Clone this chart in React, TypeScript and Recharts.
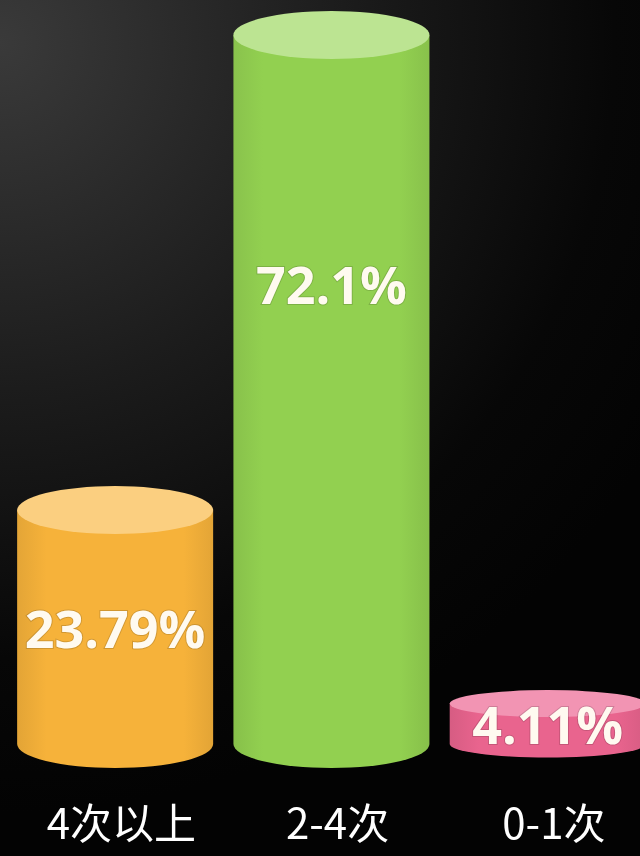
import { BarChart, Bar, XAxis, YAxis, LabelList } from "recharts";

const categories = ["4次以上", "2-4次", "0-1次"];
const shares = [23.79, 72.1, 4.11];
const shareLabels = ["23.79%", "72.1%", "4.11%"];
const bodyColors = ["#f6b23a", "#92d050", "#e9648e"];
const capColors = ["#fbcf80", "#bce492", "#f294b3"];

const data = categories.map((name, i) => ({ idx: i, name, value: shares[i] }));

function Cylinder(props: any) {
  const { x, y, width, height, index } = props;
  if (height == null || height <= 0) return null;
  const rx = width / 2;
  const ry = Math.min(24, height / 3);
  const cx = x + rx;
  const body = `M${x},${y} L${x},${y + height} A${rx},${ry} 0 0 0 ${x + width},${y + height} L${x + width},${y} Z`;
  return (
    <g>
      <defs>
        <linearGradient id={`side${index}`} x1="0" y1="0" x2="1" y2="0">
          <stop offset="0%" stopColor={bodyColors[index]} stopOpacity={0.92} />
          <stop offset="15%" stopColor={bodyColors[index]} />
          <stop offset="85%" stopColor={bodyColors[index]} />
          <stop offset="100%" stopColor={bodyColors[index]} stopOpacity={0.92} />
        </linearGradient>
      </defs>
      <path d={body} fill={`url(#side${index})`} />
      <ellipse cx={cx} cy={y} rx={rx} ry={ry} fill={capColors[index]} />
    </g>
  );
}

function ShareLabel(props: any) {
  const { x, y, width, height, index } = props;
  // tall bars keep the figure in the upper part, short ones centre it
  const cy = y + Math.min(height / 2, 248);
  return (
    <text
      x={x + width / 2}
      y={cy}
      textAnchor="middle"
      dominantBaseline="central"
      fill="#fffaf0"
      fontSize={52}
      fontWeight="bold"
      fontFamily="'Open Sans', sans-serif"
      style={{ paintOrder: "stroke" }}
      stroke="rgba(0,0,0,0.15)"
      strokeWidth={2}
    >
      {shareLabels[index]}
    </text>
  );
}

function CategoryTick(props: any) {
  const { x, y, payload } = props;
  return (
    <text
      x={x + 6}
      y={y + 76}
      textAnchor="middle"
      dominantBaseline="central"
      fill="#ffffff"
      fontSize={42}
      fontFamily="'Noto Sans CJK SC', sans-serif"
    >
      {categories[payload.value]}
    </text>
  );
}

export default function App() {
  return (
    <div
      style={{
        position: "fixed",
        left: 0,
        top: 0,
        width: 640,
        height: 856,
        background:
          "radial-gradient(ellipse 120% 90% at 0% 5%, #3a3a3a 0%, #1c1c1c 45%, #070707 80%, #030303 100%)",
      }}
    >
      <BarChart width={640} height={856} data={data} margin={{ top: 35, right: 0, left: 0, bottom: 0 }}>
        <XAxis
          type="number"
          dataKey="idx"
          domain={[-0.533, 2.426]}
          ticks={[0, 1, 2]}
          axisLine={false}
          tickLine={false}
          tickSize={0}
          tickMargin={0}
          height={112}
          tick={<CategoryTick />}
          interval={0}
        />
        <YAxis hide domain={[0, 72.1]} />
        <Bar dataKey="value" barSize={196} shape={<Cylinder />} isAnimationActive={false}>
          <LabelList dataKey="value" content={<ShareLabel />} />
        </Bar>
      </BarChart>
    </div>
  );
}
